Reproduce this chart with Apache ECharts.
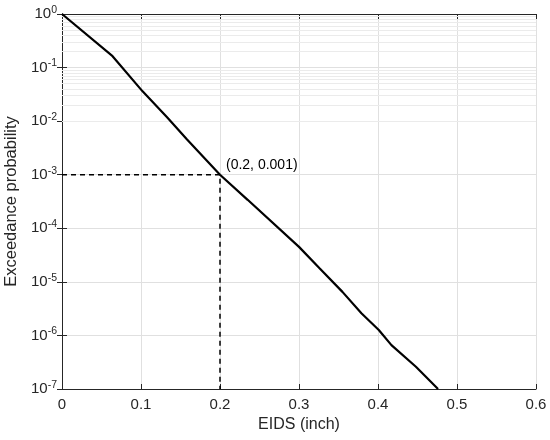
<!DOCTYPE html>
<html style="height: 100%">
<head>
    <meta charset="utf-8">
    <script src="https://cdn.jsdelivr.net/npm/echarts@6/dist/echarts.min.js"></script>
    <title>Exceedance probability</title>
</head>
<body style="height: 100%; margin: 0; background: #fff">
<div id="container" style="width: 550px; height: 440px"></div>
<script type="text/javascript">

    // curve
    let eids = [0, 0.064, 0.102, 0.133, 0.158, 0.2, 0.235, 0.3, 0.326, 0.355, 0.379, 0.401, 0.417, 0.448, 0.476]
    let prob = [1, 0.163, 0.036, 0.0118, 0.0046, 0.001, 3.4e-4, 4.5e-5, 1.8e-5, 6.5e-6, 2.6e-6, 1.26e-6, 6.6e-7, 2.6e-7, 1e-7]

    // dashed guide to the marked point
    let guideX = [0, 0.2, 0.2]
    let guideY = [0.001, 0.001, 1e-7]
    let markLabel = '(0.2, 0.001)'

    let curve = eids.map((x, i) => [x, prob[i]])
    let guide = guideX.map((x, i) => [x, guideY[i]])

    // minor log grid lines at 2..9 of each decade
    let minorLines = []
    for (let d = 1; d <= 7; d++) {
        for (let k = 2; k <= 9; k++) {
            minorLines.push({yAxis: k * Math.pow(10, -d)})
        }
    }

    let ink = '#262626'
    let font = 'Liberation Sans, Arial, sans-serif'

    let chart = echarts.init(document.getElementById('container'))
    chart.setOption({
        animation: false,
        grid: {left: 62, right: 14, top: 14, bottom: 51, containLabel: false, outerBoundsMode: 'none'},
        xAxis: [
            {
                type: 'value', min: 0, max: 0.6, interval: 0.1,
                name: 'EIDS (inch)', nameLocation: 'middle', nameGap: 27,
                nameTextStyle: {color: ink, fontSize: 16, fontFamily: font},
                axisLine: {show: true, lineStyle: {color: ink, width: 1}},
                axisTick: {show: true, inside: true, length: 5, lineStyle: {color: ink}},
                axisLabel: {color: ink, fontSize: 15, fontFamily: font, margin: 8},
                splitLine: {show: true, lineStyle: {color: '#e0e0e0', width: 1}}
            },
            {
                type: 'value', min: 0, max: 0.6, interval: 0.1, position: 'top',
                axisLine: {show: true, lineStyle: {color: ink, width: 1}},
                axisTick: {show: true, inside: true, length: 5, lineStyle: {color: ink}},
                axisLabel: {show: false},
                splitLine: {show: false}
            }
        ],
        yAxis: [
            {
                type: 'log', logBase: 10, min: 1e-7, max: 1, interval: 1,
                name: 'Exceedance probability', nameLocation: 'middle', nameGap: 34,
                nameTextStyle: {color: ink, fontSize: 16.5, fontFamily: font},
                axisLine: {show: true, lineStyle: {color: ink, width: 1}},
                axisTick: {show: true, inside: true, length: 5, lineStyle: {color: ink}},
                axisLabel: {
                    color: ink, fontSize: 15, fontFamily: font, margin: 5,
                    formatter: function (v) {
                        let e = Math.round(Math.log10(v))
                        return '10{sup|' + e + '}'
                    },
                    rich: {sup: {fontSize: 10.5, fontFamily: font, color: ink, verticalAlign: 'top', padding: [0, 0, 8, 0]}}
                },
                splitLine: {show: true, lineStyle: {color: '#e0e0e0', width: 1}}
            },
            {
                type: 'log', logBase: 10, min: 1e-7, max: 1, interval: 1, position: 'right',
                axisLine: {show: true, lineStyle: {color: ink, width: 1}},
                axisTick: {show: true, inside: true, length: 5, lineStyle: {color: ink}},
                axisLabel: {show: false},
                splitLine: {show: false}
            }
        ],
        series: [
            {
                type: 'line', data: [], silent: true, z: 1,
                markLine: {
                    silent: true, symbol: 'none', label: {show: false}, z: 1,
                    lineStyle: {color: '#ebebeb', width: 1, type: 'solid'},
                    data: minorLines
                }
            },
            {
                type: 'line', data: guide, showSymbol: false, silent: true, z: 5,
                lineStyle: {color: '#000', width: 1.5, type: [5, 4]},
                markPoint: {
                    symbol: 'circle', symbolSize: 0, z: 6,
                    label: {
                        show: true, position: 'right', offset: [1, -10],
                        formatter: markLabel, color: '#000', fontSize: 14, fontFamily: font
                    },
                    data: [{coord: [guideX[1], guideY[1]]}]
                }
            },
            {
                type: 'line', data: curve, showSymbol: false, silent: true, z: 6,
                lineStyle: {color: '#000', width: 2.2}
            }
        ]
    })

</script>
</body>
</html>
